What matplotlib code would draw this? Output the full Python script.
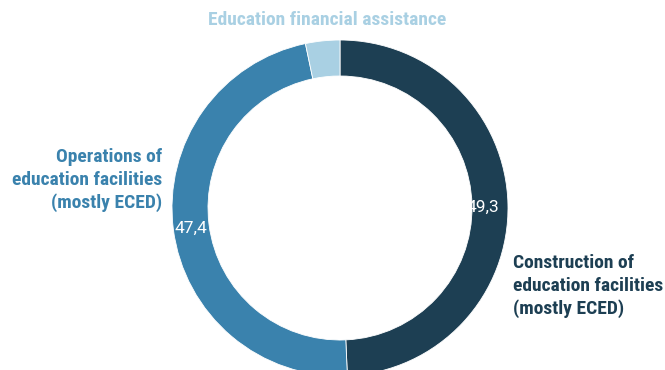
import matplotlib.pyplot as plt

labels = ['Construction of\neducation facilities\n(mostly ECED)',
          'Operations of\neducation facilities\n(mostly ECED)',
          'Education financial assistance']
values = [49.3, 47.4, 3.3]
value_labels = ['49,3', '47,4']
colors = ['#1d3f53', '#3a82ad', '#a9d0e3']

fam = ['Roboto Condensed', 'Roboto', 'DejaVu Sans']
num_fam = ['Roboto', 'DejaVu Sans']

fig = plt.figure(figsize=(6.65, 3.7), dpi=100)
ax = fig.add_axes([0, 0, 1, 1])

ax.pie(values, colors=colors, startangle=90, counterclock=False,
       center=(340, 162), radius=168, frame=True,
       wedgeprops=dict(width=36, edgecolor='white', linewidth=0.6))
ax.set_xlim(0, 665)
ax.set_ylim(0, 370)
ax.set_aspect('equal')
ax.axis('off')

# value labels
ax.text(483, 163, value_labels[0], color='white', fontsize=12.5, ha='center', va='center', family=num_fam)
ax.text(191, 142, value_labels[1], color='white', fontsize=12.5, ha='center', va='center', family=num_fam)

# category labels
ax.text(513, 84, labels[0], color=colors[0], fontsize=14, fontweight='bold',
        ha='left', va='center', linespacing=1.3, family=fam)
ax.text(162, 190, labels[1], color=colors[1], fontsize=14, fontweight='bold',
        ha='right', va='center', linespacing=1.3, multialignment='right', family=fam)
ax.text(327, 350, labels[2], color=colors[2], fontsize=14, fontweight='bold',
        ha='center', va='center', family=fam)

fig.savefig('out.png', dpi=100)
